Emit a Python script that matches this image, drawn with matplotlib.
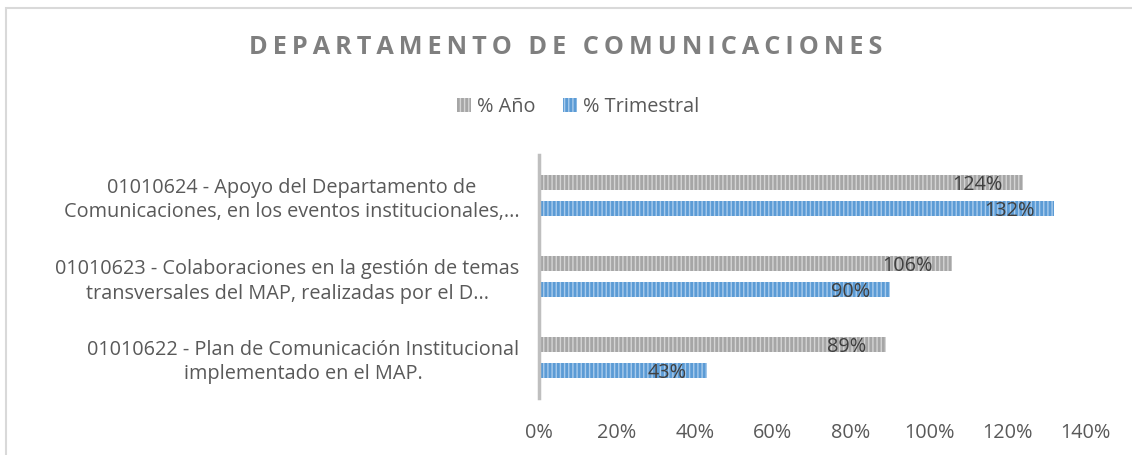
import matplotlib
matplotlib.use("Agg")
from matplotlib import pyplot as plt
from matplotlib.patches import Rectangle
import numpy as np

plt.rcParams['hatch.linewidth'] = 1.0

categorias = [
    "01010622 - Plan de Comunicación Institucional\nimplementado en el MAP.",
    "01010623 - Colaboraciones en la gestión de temas\ntransversales del MAP, realizadas por el D...",
    "01010624 - Apoyo del Departamento de\nComunicaciones, en los eventos institucionales,...",
]
anio = [89, 106, 124]
trimestral = [43, 90, 132]
ticks = [0, 20, 40, 60, 80, 100, 120, 140]

FONT = "Open Sans"
TXT = "#404040"
FS = 14.3

fig = plt.figure(figsize=(11.32, 4.55), dpi=100)
ax = fig.add_axes([539/1132, 1 - 398/455, (1085 - 539)/1132, (398 - 155)/455])

y = np.arange(len(categorias))
h = 0.18
off = 0.157

b1 = ax.barh(y + off, anio, height=h, color="#a6a6a6", edgecolor="#d4d4d4",
             linewidth=0, hatch="||||", label="% Año")
b2 = ax.barh(y - off, trimestral, height=h, color="#5b9bd5", edgecolor="#a9cbec",
             linewidth=0, hatch="||||", label="% Trimestral")

for bars, vals in ((b1, anio), (b2, trimestral)):
    for bar, v in zip(bars, vals):
        ax.text(v - 5, bar.get_y() + bar.get_height() / 2 - 0.03, f"{v}%", ha="right",
                va="center", fontsize=FS, color=TXT, family=FONT)

ax.set_xlim(0, 140)
ax.set_ylim(-0.5, 2.5)
ax.set_xticks(ticks)
ax.set_xticklabels([f"{t}%" for t in ticks], fontsize=FS, color="#595959", family=FONT)
ax.set_yticks(y)
ax.set_yticklabels(categorias, fontsize=FS, color="#595959", family=FONT,
                   multialignment="center", linespacing=1.3)
ax.tick_params(length=0, pad=14)
ax.tick_params(axis="x", pad=18)
for s in ("top", "right", "bottom"):
    ax.spines[s].set_visible(False)
ax.spines["left"].set_color("#bfbfbf")
ax.spines["left"].set_linewidth(2.5)

title = "DEPARTAMENTO DE COMUNICACIONES"
fig.text(566/1132, 1 - 47/455, "\u2009".join(title), ha="center", va="center",
         fontsize=18.2, fontweight="bold", color="#7f7f7f", family=FONT)

fig.legend(handles=[b1, b2], loc="center", bbox_to_anchor=(578/1132, 1 - 107/455),
           ncol=2, frameon=False, prop={"family": FONT, "size": FS},
           labelcolor="#595959", handlelength=0.7, handleheight=0.7,
           handletextpad=0.3, columnspacing=1.4)

fig.patches.append(Rectangle((6/1132, -0.1), 1.2, 1 + 0.1 - 8/455, transform=fig.transFigure,
                             fill=False, edgecolor="#d9d9d9", linewidth=1.5))

fig.savefig("out.png", dpi=100)
